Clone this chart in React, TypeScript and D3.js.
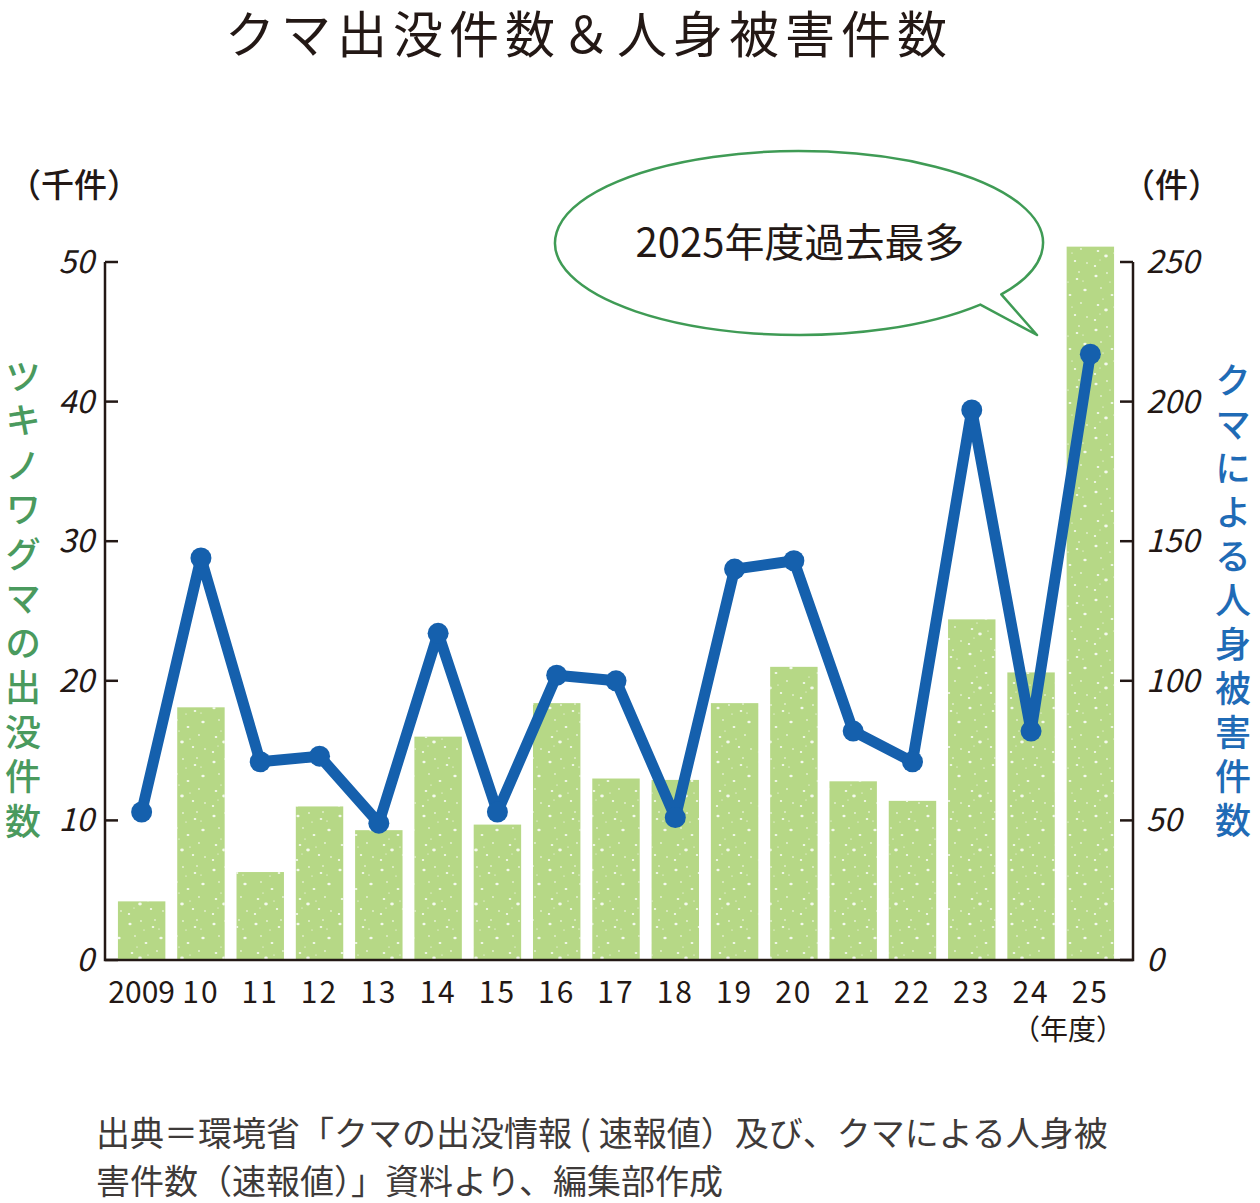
import { useMemo } from "react";
import * as d3 from "d3";

// 年度ラベル
const years = ["2009", "10", "11", "12", "13", "14", "15", "16", "17", "18", "19", "20", "21", "22", "23", "24", "25"];
// ツキノワグマの出没件数（千件）
const sightings = [4.2, 18.1, 6.3, 11.0, 9.3, 16.0, 9.7, 18.4, 13.0, 12.9, 18.4, 21.0, 12.8, 11.4, 24.4, 20.6, 51.1];
// クマによる人身被害件数（件）
const injuries = [53, 144, 71, 73, 49, 117, 53, 102, 100, 51, 140, 143, 82, 71, 197, 82, 217];
const leftTicks = [0, 10, 20, 30, 40, 50];
const rightTicks = [0, 50, 100, 150, 200, 250];

const leftLabel = "ツキノワグマの出没件数";
const rightLabel = "クマによる人身被害件数";

const W = 1260;
const H = 1203;
const axisColor = "#231815";
const barColor = "#b6d886";
const lineColor = "#1560ad";
const greenText = "#4a9a5e";
const blueText = "#1f6bb6";
const font = "'Noto Sans CJK JP', 'Noto Sans', sans-serif";

// 棒グラフのざらざら模様（固定の点）
const speckles: [number, number, number][] = [
  [4, 6, 1.2], [15, 3, 0.8], [27, 9, 1.0], [35, 20, 1.3], [9, 18, 0.7], [20, 25, 1.1],
  [31, 33, 0.8], [6, 35, 1.0], [14, 40, 1.4], [25, 45, 0.9], [37, 47, 0.7], [3, 50, 0.9],
  [18, 12, 0.6], [29, 2, 0.7], [11, 29, 0.6], [33, 11, 0.6], [22, 37, 0.6], [8, 44, 0.5],
];

export default function App() {
  const x = useMemo(() => d3.scaleBand<string>().domain(years).range([112, 1120]).paddingInner(0.2).paddingOuter(0.1), []);
  const yL = useMemo(() => d3.scaleLinear().domain([0, 50]).range([960, 262]), []);
  const yR = useMemo(() => d3.scaleLinear().domain([0, 250]).range([960, 262]), []);

  const pts = injuries.map((v, i) => [x(years[i])! + x.bandwidth() / 2, yR(v)] as [number, number]);
  const linePath = d3.line().curve(d3.curveLinear)(pts) ?? "";

  // 吹き出し
  const cx = 799, cy = 243, rx = 244, ry = 92;
  const pt = (deg: number) => {
    const a = (deg * Math.PI) / 180;
    return [cx + rx * Math.cos(a), cy + ry * Math.sin(a)];
  };
  const [ax, ay] = pt(42);
  const [bx, by] = pt(34);
  const bubble = `M${ax},${ay} A${rx},${ry} 0 1 1 ${bx},${by} L1037,335 Z`;

  return (
    <svg width={W} height={H} style={{ position: "absolute", left: 0, top: 0, background: "#fff" }} fontFamily={font}>
      <defs>
        <pattern id="speck" width="42" height="54" patternUnits="userSpaceOnUse">
          {speckles.map(([sx, sy, r], i) => (
            <ellipse key={i} cx={sx} cy={sy} rx={r * 1.3} ry={r} fill="#fff" opacity={0.85} />
          ))}
        </pattern>
      </defs>

      <text x={589} y={53} textAnchor="middle" fontSize={50} fontWeight={400} letterSpacing={6} fill={axisColor}>
        クマ出没件数＆人身被害件数
      </text>

      <text x={8} y={197} fontSize={33} fill={axisColor} fontWeight={500}>（千件）</text>
      <text x={1122} y={197} fontSize={33} fill={axisColor} fontWeight={500}>（件）</text>

      {/* bars */}
      {sightings.map((v, i) => (
        <g key={years[i]}>
          <rect x={x(years[i])} y={yL(v)} width={x.bandwidth()} height={960 - yL(v)} fill={barColor} />
          <rect x={x(years[i])} y={yL(v)} width={x.bandwidth()} height={960 - yL(v)} fill="url(#speck)" />
        </g>
      ))}

      {/* axes */}
      <g stroke={axisColor} strokeWidth={2.5} fill="none">
        <path d={`M105,262 V960 H1133 V262`} />
        {leftTicks.map((t) => (
          <line key={t} x1={105} x2={118} y1={yL(t)} y2={yL(t)} />
        ))}
        {rightTicks.map((t) => (
          <line key={t} x1={1120} x2={1133} y1={yR(t)} y2={yR(t)} />
        ))}
      </g>
      {leftTicks.map((t) => (
        <text key={t} x={94} y={yL(t) + 11} textAnchor="end" fontSize={32} fill={axisColor} fontStyle="italic">
          {t}
        </text>
      ))}
      {rightTicks.map((t) => (
        <text key={t} x={1146} y={yR(t) + 11} fontSize={32} fill={axisColor} fontStyle="italic">
          {t}
        </text>
      ))}
      {years.map((yv) => (
        <text key={yv} x={x(yv)! + x.bandwidth() / 2} y={1003} textAnchor="middle" fontSize={30} letterSpacing={yv.length > 2 ? 0 : 2} fill={axisColor}>
          {yv}
        </text>
      ))}
      <text x={1068} y={1040} textAnchor="middle" fontSize={28} fill={axisColor}>（年度）</text>

      {/* line */}
      <path d={linePath} fill="none" stroke={lineColor} strokeWidth={11} strokeLinejoin="round" strokeLinecap="round" />
      {pts.map(([px, py], i) => (
        <circle key={i} cx={px} cy={py} r={10.5} fill={lineColor} />
      ))}

      {/* vertical labels */}
      <text x={23} y={358} writingMode="vertical-rl" fontSize={36} letterSpacing={8.5} fill={greenText} fontWeight={500}>
        {leftLabel}
      </text>
      <text x={1233} y={362} writingMode="vertical-rl" fontSize={36} letterSpacing={8} fill={blueText} fontWeight={500}>
        {rightLabel}
      </text>

      {/* bubble */}
      <path d={bubble} fill="#fff" stroke="#3f9b55" strokeWidth={2.5} strokeLinejoin="round" />
      <text x={800} y={257} textAnchor="middle" fontSize={40} fill={axisColor} fontWeight={400}>
        2025年度過去最多
      </text>

      {/* source */}
      <text x={96} y={1146} fontSize={34} fill="#3e3a39">
        出典＝環境省「クマの出没情報 ( 速報値）及び、クマによる人身被
      </text>
      <text x={96} y={1194} fontSize={34} fill="#3e3a39">
        害件数（速報値）」資料より、編集部作成
      </text>
    </svg>
  );
}
